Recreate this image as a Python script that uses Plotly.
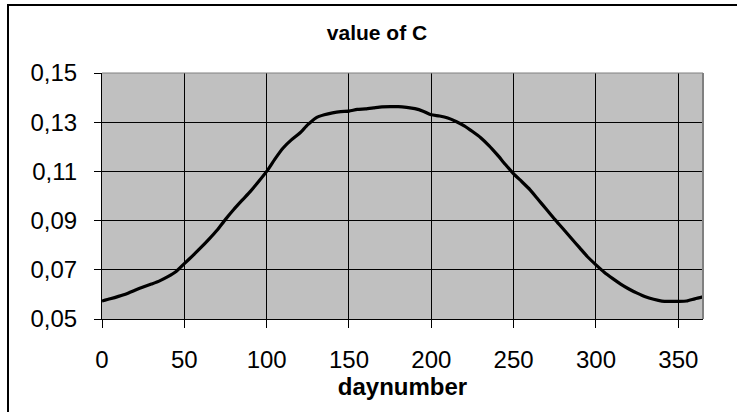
import plotly.graph_objects as go

days = [0, 5, 10, 15, 20, 25, 30, 35, 40, 45, 50, 55, 60, 65, 70, 75, 80, 85, 90, 95,
        100, 105, 110, 115, 120, 125, 130, 135, 140, 145, 150, 155, 160, 165, 170, 175,
        180, 185, 190, 195, 200, 205, 210, 215, 220, 225, 230, 235, 240, 245, 250, 255,
        260, 265, 270, 275, 280, 285, 290, 295, 300, 305, 310, 315, 320, 325, 330, 335,
        340, 345, 350, 355, 360, 365]
c_values = [0.0573, 0.0582, 0.0592, 0.0603, 0.0617, 0.0630, 0.0642, 0.0655, 0.0672, 0.0693,
            0.0725, 0.0757, 0.0790, 0.0825, 0.0862, 0.0905, 0.0945, 0.0982, 0.1018, 0.1058,
            0.1100, 0.1150, 0.1195, 0.1228, 0.1255, 0.1290, 0.1318, 0.1330, 0.1338, 0.1343,
            0.1345, 0.1352, 0.1354, 0.1358, 0.1362, 0.1363, 0.1363, 0.1360, 0.1355, 0.1345,
            0.1330, 0.1325, 0.1317, 0.1303, 0.1285, 0.1262, 0.1237, 0.1205, 0.1168, 0.1128,
            0.1090, 0.1058, 0.1025, 0.0985, 0.0945, 0.0905, 0.0867, 0.0828, 0.0790, 0.0752,
            0.0720, 0.0690, 0.0665, 0.0642, 0.0622, 0.0605, 0.0590, 0.0580, 0.0573, 0.0572,
            0.0572, 0.0573, 0.0582, 0.0590]

x_ticks = [0, 50, 100, 150, 200, 250, 300, 350]
y_ticks = [0.05, 0.07, 0.09, 0.11, 0.13, 0.15]
y_tick_labels = ["0,05", "0,07", "0,09", "0,11", "0,13", "0,15"]

FONT = "Liberation Sans, Arial, sans-serif"
W, H = 737, 412
ML, MR, MT, MB = 102, 34, 73, 93
PW, PH = W - ML - MR, H - MT - MB

fig = go.Figure()
fig.add_trace(go.Scatter(x=days, y=c_values, mode="lines",
                         line=dict(color="black", width=3.2, shape="spline", smoothing=0.6),
                         hoverinfo="skip", showlegend=False))

def px_x(p):
    return (p - ML) / PW

def px_y(p):
    return (H - MB - p) / PH

fig.update_layout(
    width=W, height=H,
    margin=dict(l=ML, r=MR, t=MT, b=MB, pad=0),
    paper_bgcolor="white", plot_bgcolor="#C0C0C0",
    font=dict(family=FONT, color="black"),
    title=dict(text="<b>value of C</b>", x=377 / W, xanchor="center",
               y=1 - 33 / H, yanchor="middle", font=dict(size=21, family=FONT, color="black")),
    xaxis=dict(range=[0, 365], tickvals=x_ticks, ticktext=[str(v) for v in x_ticks],
               showgrid=True, gridcolor="black", gridwidth=1,
               showline=True, linecolor="black", linewidth=1,
               ticks="outside", ticklen=8, tickcolor="black", tickwidth=1,
               tickfont=dict(size=24, family=FONT, color="black"),
               ticklabelstandoff=11,
               title=dict(text="<b>daynumber</b>", font=dict(size=24, family=FONT, color="black"),
                          standoff=4),
               zeroline=False, fixedrange=True),
    yaxis=dict(range=[0.05, 0.15], tickvals=y_ticks, ticktext=y_tick_labels,
               showgrid=True, gridcolor="black", gridwidth=1,
               showline=True, linecolor="black", linewidth=1,
               ticks="outside", ticklen=7, tickcolor="black", tickwidth=1,
               tickfont=dict(size=24, family=FONT, color="black"),
               ticklabelstandoff=12,
               zeroline=False, fixedrange=True),
    shapes=[
        dict(type="line", xref="paper", yref="paper", x0=0, x1=1, y0=1, y1=1,
             line=dict(color="#808080", width=1), layer="above"),
        dict(type="line", xref="paper", yref="paper", x0=1, x1=1, y0=0, y1=1,
             line=dict(color="#808080", width=2), layer="above"),
        dict(type="rect", xref="paper", yref="paper",
             x0=px_x(8), x1=px_x(745), y0=px_y(420), y1=px_y(5),
             line=dict(color="black", width=2), fillcolor="rgba(0,0,0,0)", layer="above"),
    ],
)

fig.write_html("out.html")
